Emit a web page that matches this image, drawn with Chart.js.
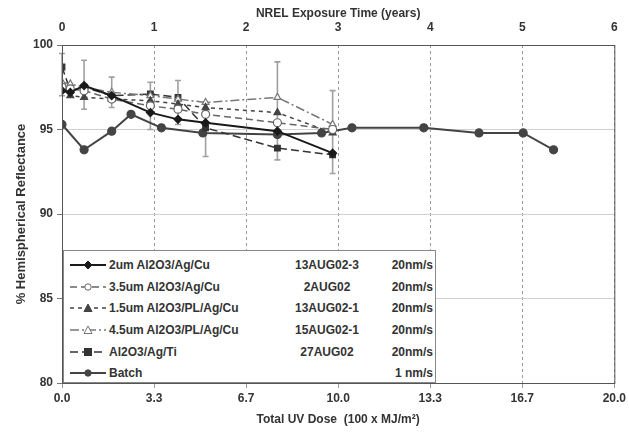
<!DOCTYPE html>
<html>
<head>
<meta charset="utf-8">
<script src="https://cdn.jsdelivr.net/npm/chart.js@4"></script>
<style>
  body { margin:0; background:#fff; }
  #wrap { position:relative; width:629px; height:437px; }
  #legend { position:absolute; left:63px; top:250px; width:371px; height:131px; background:#fff;
    border:1px solid #888; font:bold 12px "Liberation Sans", Arial, sans-serif; color:#333; }
  #legend table { border-collapse:collapse; margin-top:3px; }
  #legend td { padding:0; height:21.7px; white-space:nowrap; }
  #legend svg { display:block; margin-left:6px; margin-right:3px; }
</style>
</head>
<body>
<div id="wrap">
<canvas id="line-chart" width="629" height="437"></canvas>
<div id="legend"></div>
</div>
<script>
// dose values (100 x MJ/m2) at each measurement
let labDose = [0, 0.3, 0.8, 1.8, 3.2, 4.2, 5.2, 7.8, 9.8]
let batchDose = [0, 0.8, 1.8, 2.5, 3.6, 5.1, 7.8, 9.4, 10.5, 13.1, 15.1, 16.7, 17.8]

let cu2um = [97.3, 97.2, 97.6, 97.0, 96.0, 95.6, 95.4, 94.9, 93.6]
let cu35um = [97.5, 97.4, 97.3, 96.8, 96.4, 96.2, 95.9, 95.4, 95.0]
let pl15um = [97.4, 97.0, 96.9, 96.8, 96.7, 96.5, 96.3, 96.0, 94.8]
let pl45um = [97.8, 97.7, 97.5, 97.2, 97.0, 96.8, 96.6, 96.9, 95.3]
let agTi = [98.7, 97.3, 97.5, 97.0, 97.1, 96.9, 95.1, 93.9, 93.5]
let batch = [95.3, 93.8, 94.9, 95.9, 95.1, 94.8, 94.7, 94.8, 95.1, 95.1, 94.8, 94.8, 93.8]

// error bars on the Al2O3/Ag/Ti samples
let agTiLow = [97.0, null, 96.2, 96.3, 95.0, 95.3, 93.4, 93.2, 92.4]
let agTiHigh = [99.5, null, 99.1, 98.1, 97.8, 97.9, 96.6, 99.0, 97.3]

let names = ["2um Al2O3/Ag/Cu", "3.5um Al2O3/Ag/Cu", "1.5um Al2O3/PL/Ag/Cu", "4.5um Al2O3/PL/Ag/Cu", "Al2O3/Ag/Ti", "Batch"]
let runs = ["13AUG02-3", "2AUG02", "13AUG02-1", "15AUG02-1", "27AUG02", ""]
let rates = ["20nm/s", "20nm/s", "20nm/s", "20nm/s", "20nm/s", "1 nm/s"]

let years = [0, 1, 2, 3, 4, 5, 6]
let doseTickLabels = ["0.0", "3.3", "6.7", "10.0", "13.3", "16.7", "20.0"]

function pts(xs, ys) {
  return xs.map((x, i) => ({x: x, y: ys[i]}))
}

let styles = [
  {color: "#1a1a1a", dash: [], shape: "rectRot", fill: true, width: 2},
  {color: "#666666", dash: [7, 4], shape: "circle", fill: false, width: 1.5},
  {color: "#444444", dash: [4, 4], shape: "triangle", fill: true, width: 1.5},
  {color: "#777777", dash: [9, 3, 2, 3], shape: "triangle", fill: false, width: 1.5},
  {color: "#333333", dash: [8, 4], shape: "rect", fill: true, width: 1.5},
  {color: "#444444", dash: [], shape: "circle", fill: true, width: 2}
]
let series = [pts(labDose, cu2um), pts(labDose, cu35um), pts(labDose, pl15um), pts(labDose, pl45um), pts(labDose, agTi), pts(batchDose, batch)]

let datasets = series.map((d, i) => ({
  label: names[i],
  data: d,
  borderColor: styles[i].color,
  borderWidth: styles[i].width,
  borderDash: styles[i].dash,
  pointStyle: styles[i].shape,
  pointRadius: 4,
  pointBorderColor: styles[i].color,
  pointBackgroundColor: styles[i].fill ? styles[i].color : "#fff",
  pointBorderWidth: 1.2,
  fill: false,
  tension: 0
}))
datasets[4].errLow = agTiLow
datasets[4].errHigh = agTiHigh

const errorBars = {
  id: "errorBars",
  beforeDatasetsDraw(chart) {
    const ctx = chart.ctx
    const xs = chart.scales.x, ys = chart.scales.y
    ctx.save()
    ctx.strokeStyle = "#a0a0a0"
    ctx.lineWidth = 1.6
    chart.data.datasets.forEach(ds => {
      if (!ds.errLow) return
      ds.data.forEach((p, i) => {
        if (ds.errLow[i] == null) return
        const x = xs.getPixelForValue(p.x)
        const y1 = ys.getPixelForValue(ds.errLow[i])
        const y2 = ys.getPixelForValue(ds.errHigh[i])
        ctx.beginPath()
        ctx.moveTo(x, y1); ctx.lineTo(x, y2)
        ctx.moveTo(x - 3, y1); ctx.lineTo(x + 3, y1)
        ctx.moveTo(x - 3, y2); ctx.lineTo(x + 3, y2)
        ctx.stroke()
      })
    })
    ctx.restore()
  },
  afterDraw(chart) {
    const a = chart.chartArea, ctx = chart.ctx
    ctx.save()
    ctx.strokeStyle = "#555"
    ctx.lineWidth = 1
    ctx.strokeRect(a.left + 0.5, a.top + 0.5, a.right - a.left, a.bottom - a.top)
    ctx.restore()
  }
}

const font = "'Liberation Sans', Arial, sans-serif"
const ctx = document.getElementById("line-chart")
const myChart = new Chart(ctx, {
  type: "line",
  data: {datasets: datasets},
  plugins: [errorBars],
  options: {
    responsive: false,
    animation: false,
    devicePixelRatio: 1,
    layout: {padding: {left: 0, right: 14, top: 0, bottom: 0}},
    plugins: {legend: {display: false}, tooltip: {enabled: false}},
    scales: {
      x: {
        type: "linear", position: "bottom", min: 0, max: 20,
        afterFit: s => { s.height = 54 },
        afterBuildTicks: s => { s.ticks = years.map(v => ({value: v * 20 / 6})) },
        ticks: {
          callback: (v, i) => doseTickLabels[i],
          font: {family: font, size: 12, weight: "bold"}, color: "#333", padding: 3, maxRotation: 0
        },
        grid: {color: "#9a9a9a", lineWidth: 1, tickLength: 5},
        border: {color: "#555", dash: [3, 3]},
        title: {display: true, text: "Total UV Dose  (100 x MJ/m²)", font: {family: font, size: 12, weight: "bold"},
          color: "#333", padding: {bottom: 10}}
      },
      x2: {
        type: "linear", position: "top", min: 0, max: 6,
        afterFit: s => { s.height = 45 },
        afterBuildTicks: s => { s.ticks = years.map(v => ({value: v})) },
        ticks: {font: {family: font, size: 12, weight: "bold"}, color: "#333", padding: 2},
        grid: {display: false},
        border: {color: "#555"},
        title: {display: true, text: "NREL Exposure Time (years)", font: {family: font, size: 12, weight: "bold"},
          color: "#333", padding: {top: 6}}
      },
      y: {
        min: 80, max: 100,
        afterFit: s => { s.width = 62 },
        ticks: {stepSize: 5, font: {family: font, size: 12, weight: "bold"}, color: "#333", padding: 4},
        grid: {color: "#d0d0d0", tickLength: 5, tickColor: "#777"},
        border: {color: "#555"},
        title: {display: true, text: "% Hemispherical Reflectance", font: {family: font, size: 13, weight: "bold"},
          color: "#333", padding: {top: 14}}
      }
    }
  }
})

// legend box drawn as html with small svg samples
function sample(st) {
  let dash = st.dash.length ? st.dash.join(",") : "none"
  let fill = st.fill ? st.color : "#fff"
  let m = ""
  if (st.shape == "rectRot") m = `<polygon points="18,1 22,5 18,9 14,5" fill="${fill}" stroke="${st.color}"/>`
  if (st.shape == "circle") m = `<circle cx="18" cy="5" r="3.2" fill="${fill}" stroke="${st.color}"/>`
  if (st.shape == "triangle") m = `<polygon points="18,1 22,8.5 14,8.5" fill="${fill}" stroke="${st.color}"/>`
  if (st.shape == "rect") m = `<rect x="14.5" y="1.5" width="7" height="7" fill="${fill}" stroke="${st.color}"/>`
  return `<svg width="36" height="10"><line x1="0" y1="5" x2="36" y2="5" stroke="${st.color}" stroke-width="${st.width}" stroke-dasharray="${dash}"/>${m}</svg>`
}
let html = "<table>"
names.forEach((n, i) => {
  html += `<tr><td>${sample(styles[i])}</td><td style="width:168px">${n}</td>` +
    `<td style="width:100px;text-align:center">${runs[i]}</td><td style="width:56px;text-align:right">${rates[i]}</td></tr>`
})
html += "</table>"
document.getElementById("legend").innerHTML = html
</script>
</body>
</html>
